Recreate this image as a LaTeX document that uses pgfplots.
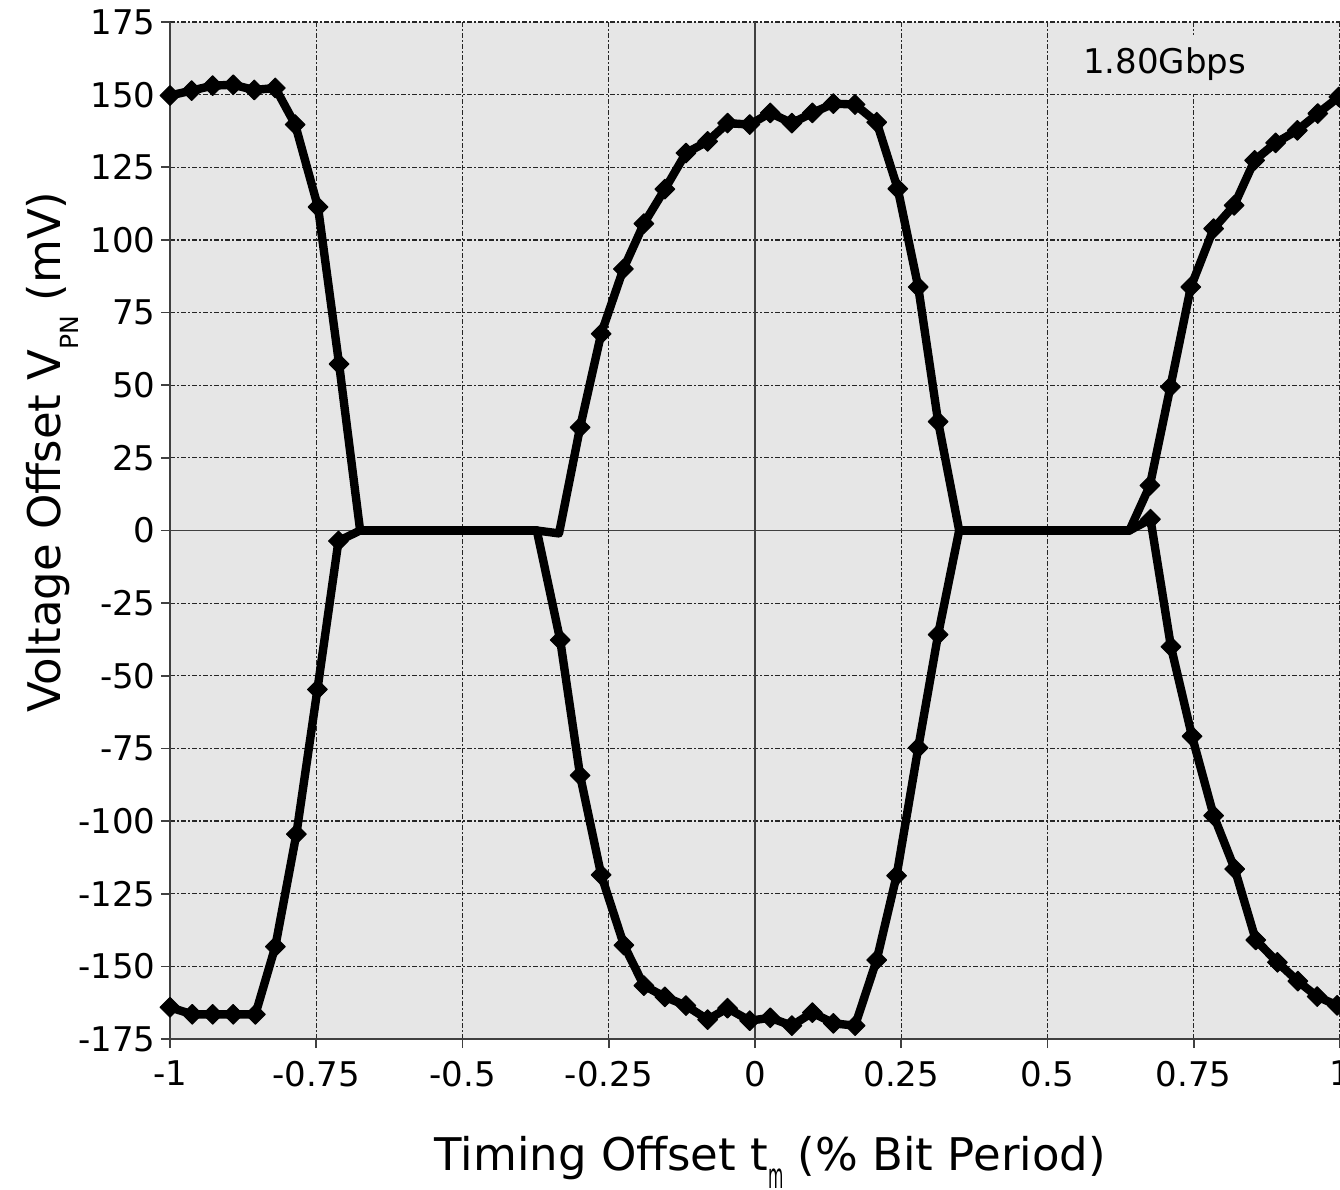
\documentclass[border=0pt]{standalone}
\usepackage{fontspec}
\setmainfont{DejaVu Sans}
\usepackage{pgfplots}
\pgfplotsset{compat=1.18}
\definecolor{bggray}{RGB}{230,230,230}
\begin{document}
\begin{tikzpicture}
\begin{axis}[name=ax, scale only axis, width=585pt, height=508.5pt,
  xmin=-1, xmax=1, ymin=-175, ymax=175,
  axis x line*=bottom, axis y line*=left,
  axis line style={-, draw=black!75, line width=0.8pt},
  xtick={-1,-0.75,-0.5,-0.25,0,0.25,0.5,0.75,1},
  xticklabels={-1,-0.75,-0.5,-0.25,0,0.25,0.5,0.75,1},
  ytick={-175,-150,-125,-100,-75,-50,-25,0,25,50,75,100,125,150,175},
  yticklabels={-175,-150,-125,-100,-75,-50,-25,0,25,50,75,100,125,150,175},
  tick align=outside, major tick length=4.5pt,
  tick style={draw=black!75, line width=0.8pt},
  ticklabel style={font=\fontsize{17}{20}\selectfont},
  xticklabel shift=3pt,
  yticklabel style={inner xsep=2.5pt},
  grid=major,
  major grid style={draw=black!85, line width=0.6pt, dash pattern=on 2.5pt off 1pt on 1pt off 1pt},
  axis background/.style={fill=bggray},
  label style={font=\fontsize{22.5}{27}\selectfont},
  xlabel={Timing Offset t\raisebox{-9.3pt}{\scalebox{0.45}[1]{\fontsize{17.5}{17.5}\selectfont m}} (\% Bit Period)},
  ylabel={Voltage Offset V\raisebox{-9pt}{\fontsize{12.5}{12.5}\selectfont PN} (mV)},
  xlabel style={at={(axis description cs:0.513,-0.129)}, anchor=base},
  ylabel style={at={(axis description cs:-0.094,0.577)}, anchor=base},
  every axis plot/.append style={black, line width=4.2pt, line join=round, line cap=round,
    mark=square*, mark size=3.5pt, mark options={rotate=45, solid, line width=0.5pt}},
]
\draw[black!75, line width=0.8pt] (axis cs:0,-175) -- (axis cs:0,175);
\draw[black!75, line width=0.8pt] (axis cs:-1,0) -- (axis cs:1,0);
\node[fill=bggray, inner xsep=4pt, minimum height=29pt, font=\fontsize{17}{20}\selectfont] at (axis cs:0.70,160.5) {1.80Gbps};

% upper left
\addplot[mark indices={1,2,3,4,5,6,7,8,9}] coordinates {
(-1,149.7) (-0.963,151.4) (-0.927,153.1) (-0.892,153.4) (-0.856,151.6) (-0.820,152.3)
(-0.786,139.7) (-0.747,111.3) (-0.711,57.3) (-0.675,0)};
% lower left
\addplot[mark indices={1,2,3,4,5,6,7,8,9}] coordinates {
(-1,-164.1) (-0.962,-166.5) (-0.927,-166.5) (-0.892,-166.5) (-0.854,-166.5) (-0.820,-143.2)
(-0.784,-104.5) (-0.748,-54.7) (-0.712,-3.6) (-0.675,0)};
% flat
\addplot[mark=none] coordinates {(-0.675,0) (-0.373,0)};
% lower middle
\addplot[mark indices={2,3,4,5,6,7,8,9,10,11,12,13,14,15,16,17,18,19,20}] coordinates {
(-0.373,0) (-0.333,-37.7) (-0.299,-84.3) (-0.263,-118.5) (-0.224,-142.7) (-0.190,-156.6)
(-0.154,-160.5) (-0.118,-163.5) (-0.081,-168.3) (-0.047,-164.4) (-0.009,-168.7) (0.026,-167.7)
(0.063,-170.4) (0.098,-165.9) (0.134,-169.6) (0.171,-170.4) (0.208,-147.8) (0.242,-118.8)
(0.279,-74.8) (0.313,-35.8) (0.349,0)};
% upper middle
\addplot[mark indices={3,4,5,6,7,8,9,10,11,12,13,14,15,16,17,18,19,20}] coordinates {
(-0.373,0) (-0.335,-1) (-0.299,35.5) (-0.263,67.7) (-0.225,90.0) (-0.190,105.6)
(-0.154,117.5) (-0.118,129.9) (-0.081,133.9) (-0.047,140.2) (-0.009,139.7) (0.026,143.7)
(0.063,140.2) (0.098,143.7) (0.134,146.9) (0.171,146.6) (0.208,140.5) (0.244,117.6)
(0.279,83.8) (0.313,37.5) (0.349,0)};
% flat
\addplot[mark=none] coordinates {(0.349,0) (0.640,0)};
% upper right
\addplot[mark indices={2,3,4,5,6,7,8,9,10,11}] coordinates {
(0.640,0) (0.675,15.5) (0.710,49.4) (0.745,83.8) (0.784,103.9) (0.819,111.9)
(0.854,127.4) (0.890,133.4) (0.927,137.7) (0.962,143.5) (0.998,149.2)};
% lower right
\addplot[mark indices={2,3,4,5,6,7,8,9,10,11}] coordinates {
(0.640,0) (0.676,3.9) (0.711,-40.0) (0.747,-70.8) (0.784,-98.1) (0.820,-116.5)
(0.856,-140.9) (0.893,-148.6) (0.928,-155.1) (0.961,-160.4) (0.995,-163.4)};
\end{axis}
\pgfresetboundingbox
\path[use as bounding box] ([xshift=-85pt,yshift=-75pt]ax.south west) rectangle ([yshift=11pt]ax.north east);
\end{tikzpicture}
\end{document}
